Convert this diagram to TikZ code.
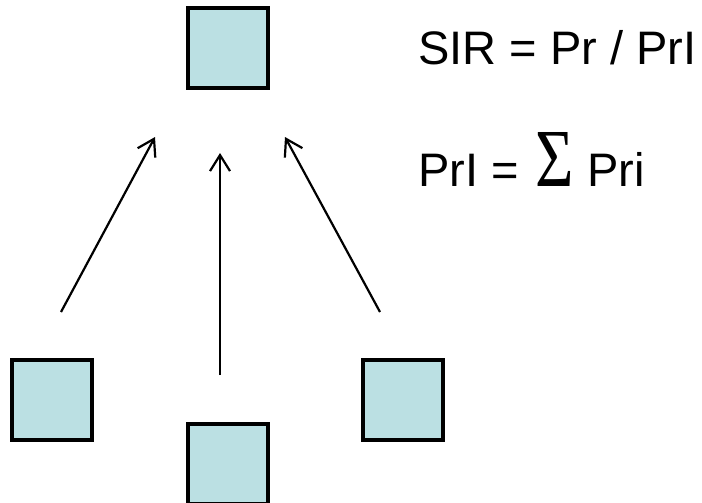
\documentclass[tikz,border=0pt]{standalone}
\usepackage{fontspec}
\usepackage{graphicx}
\setmainfont{Liberation Sans}
\newfontfamily\sigmafont{Liberation Serif}
\usetikzlibrary{arrows.meta}
\begin{document}
\begin{tikzpicture}[x=1pt,y=-1pt,
  cell/.style={draw=black,line width=3.2pt,fill=boxblue,minimum width=80pt,minimum height=80pt,inner sep=0pt,outer sep=0pt},
  arr/.style={line width=2.2pt,-{Straight Barb[length=16pt,width=20pt,line width=2.2pt]}},
  lbl/.style={font=\fontsize{47}{52}\selectfont,inner sep=0pt,anchor=base west}]
\definecolor{boxblue}{HTML}{BBE0E3}
\useasboundingbox (0,0) rectangle (702,503);
\node[cell] (top) at (228,48) {};
\node[cell] (bl) at (52,400) {};
\node[cell] (bm) at (228,464) {};
\node[cell] (br) at (403,400) {};
\coordinate (ls) at (61,312);
\coordinate (lt) at (155,137);
\coordinate (ms) at (220,375);
\coordinate (mt) at (220,153);
\coordinate (rs) at (380,312);
\coordinate (rt) at (285,137);
\draw[arr] (ls) -- (lt);
\draw[arr] (ms) -- (mt);
\draw[arr] (rs) -- (rt);
\node[lbl] (sir) at (418,65) {SIR = Pr / PrI};
\node[lbl] (pri) at (418,186) {PrI = \hspace{4pt}{\sigmafont\fontsize{66}{70}\selectfont\scalebox{1}[1.25]{Σ}} Pri};
\end{tikzpicture}
\end{document}
